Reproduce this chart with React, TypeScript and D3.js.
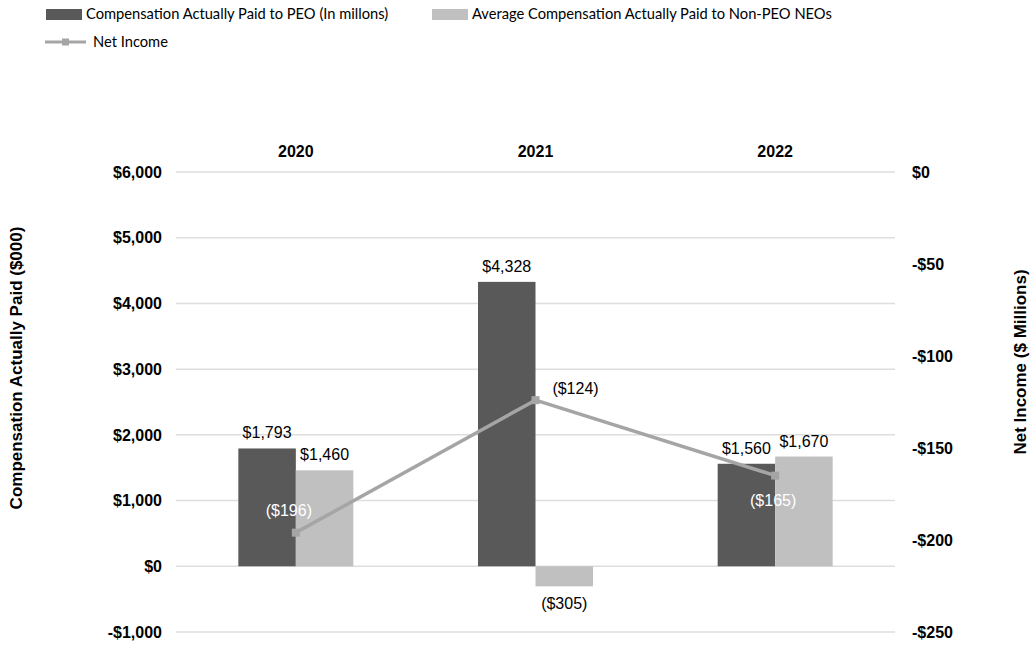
import React from "react";
import * as d3 from "d3";

const years = ["2020", "2021", "2022"];
const peoComp = [1793, 4328, 1560];
const neoComp = [1460, -305, 1670];
const netIncome = [-196, -124, -165];
const leftTicks = [-1000, 0, 1000, 2000, 3000, 4000, 5000, 6000];
const rightTicks = [-250, -200, -150, -100, -50, 0];

const W = 1031;
const H = 649;
const plotL = 176;
const plotR = 895;
const plotT = 172;
const plotB = 632;

const DARK = "#595959";
const LIGHT = "#c0c0c0";
const LINE = "#a5a5a5";
const GRID = "#dedede";
const FONT = "'Liberation Sans', Arial, sans-serif";
const LEG_FONT = "Lato, 'Open Sans', sans-serif";

const fmtLeft = (v: number) => (v < 0 ? "-$" : "$") + d3.format(",")(Math.abs(v));
const fmtRight = (v: number) => (v < 0 ? "-$" : "$") + Math.abs(v);
const fmtVal = (v: number) => (v < 0 ? `($${d3.format(",")(-v)})` : `$${d3.format(",")(v)}`);

export default function App() {
  const x = d3.scaleBand<string>().domain(years).range([plotL, plotR]).padding(0);
  const yL = d3.scaleLinear().domain([-1000, 6000]).range([plotB, plotT]);
  const yR = d3.scaleLinear().domain([-250, 0]).range([plotB, plotT]);
  const barW = 57.5;
  const cx = (y: string) => (x(y) as number) + x.bandwidth() / 2;

  const line = d3
    .line<number>()
    .x((_, i) => cx(years[i]))
    .y((d) => yR(d));

  // label offsets for net income labels (dx, dy relative to marker)
  const niOff = [
    [-7, -22],
    [40, -12],
    [-2, 25],
  ];

  return (
    <svg width={W} height={H} style={{ display: "block", position: "absolute", left: 0, top: 0 }}>
      <rect x={0} y={0} width={W} height={H} fill="#fff" />
      {/* Legend */}
      <g fontFamily={LEG_FONT} fontSize={14.7} fill="#000">
        <rect x={46} y={9} width={36} height={11} fill={DARK} />
        <text x={86} y={19}>Compensation Actually Paid to PEO (In millons)</text>
        <rect x={432} y={9} width={36} height={11} fill={LIGHT} />
        <text x={472} y={19}>Average Compensation Actually Paid to Non-PEO NEOs</text>
        <line x1={45} x2={86} y1={42} y2={42} stroke={LINE} strokeWidth={3} />
        <rect x={62} y={38.5} width={7} height={7} fill={LINE} />
        <text x={93} y={47}>Net Income</text>
      </g>

      {/* Gridlines */}
      {leftTicks.map((t) => (
        <line key={t} x1={plotL} x2={plotR} y1={yL(t)} y2={yL(t)} stroke={GRID} strokeWidth={1.5} />
      ))}

      {/* Axes labels */}
      <g fontFamily={FONT} fontSize={16} fontWeight="bold" fill="#000">
        {leftTicks.map((t) => (
          <text key={t} x={162} y={yL(t)} dy="0.36em" textAnchor="end">
            {fmtLeft(t)}
          </text>
        ))}
        {rightTicks.map((t) => (
          <text key={t} x={912} y={yR(t)} dy="0.36em" textAnchor="start">
            {fmtRight(t)}
          </text>
        ))}
        {years.map((yv) => (
          <text key={yv} x={cx(yv)} y={157} textAnchor="middle">
            {yv}
          </text>
        ))}
        <text transform={`translate(22,368) rotate(-90)`} textAnchor="middle" fontSize={17}>
          Compensation Actually Paid ($000)
        </text>
        <text transform={`translate(1026,362) rotate(-90)`} textAnchor="middle" fontSize={17}>
          Net Income ($ Millions)
        </text>
      </g>

      {/* Bars */}
      {years.map((yv, i) => {
        const c = cx(yv);
        const p = peoComp[i];
        const n = neoComp[i];
        return (
          <g key={yv}>
            <rect x={c - barW} width={barW} y={Math.min(yL(p), yL(0))} height={Math.abs(yL(p) - yL(0))} fill={DARK} />
            <rect x={c} width={barW} y={Math.min(yL(n), yL(0))} height={Math.abs(yL(n) - yL(0))} fill={LIGHT} />
          </g>
        );
      })}

      {/* Line */}
      <path d={line(netIncome) as string} fill="none" stroke={LINE} strokeWidth={3.5} />
      {netIncome.map((v, i) => (
        <rect key={i} x={cx(years[i]) - 4} y={yR(v) - 4} width={8} height={8} fill={LINE} />
      ))}

      {/* Bar labels */}
      <g fontFamily={FONT} fontSize={16} fill="#000" textAnchor="middle">
        {years.map((yv, i) => {
          const c = cx(yv);
          const p = peoComp[i];
          const n = neoComp[i];
          return (
            <g key={yv}>
              <text x={c - barW / 2} y={p >= 0 ? yL(p) - 10 : yL(p) + 22}>
                {fmtVal(p)}
              </text>
              <text x={c + barW / 2} y={n >= 0 ? yL(n) - 10 : yL(n) + 23}>
                {fmtVal(n)}
              </text>
            </g>
          );
        })}
      </g>

      {/* Net income labels */}
      <g fontFamily={FONT} fontSize={16} textAnchor="middle">
        {netIncome.map((v, i) => (
          <text
            key={i}
            x={cx(years[i]) + niOff[i][0]}
            y={yR(v) + niOff[i][1]}
            dy="0.36em"
            fill={i === 1 ? "#000" : "#fff"}
          >
            {fmtVal(v)}
          </text>
        ))}
      </g>
    </svg>
  );
}
